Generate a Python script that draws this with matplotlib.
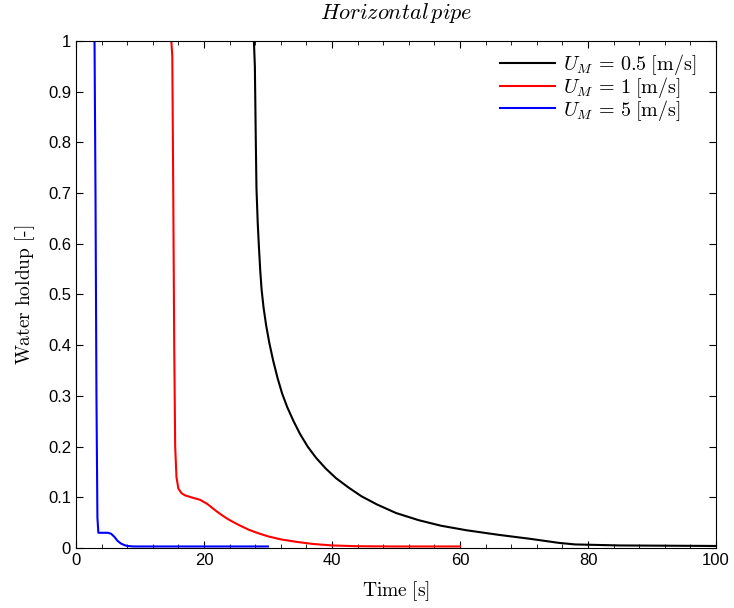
import matplotlib
matplotlib.use("Agg")
import matplotlib.pyplot as plt
from matplotlib.ticker import MultipleLocator

# --- data ---
t_05 = [0, 27.8, 27.95, 28.1, 28.2, 28.4, 28.6, 28.8, 29.0, 29.3, 29.7, 30.2,
        30.8, 31.5, 32.2, 33.0, 34.0, 35.0, 36.2, 37.5, 39.0, 40.6, 42.5, 44.6,
        47, 50, 53.5, 57, 61, 66, 71, 75.5, 78, 85, 100]
h_05 = [1, 1, 0.95, 0.8, 0.71, 0.64, 0.59, 0.545, 0.51, 0.475, 0.44, 0.405,
        0.37, 0.335, 0.305, 0.278, 0.25, 0.225, 0.2, 0.178, 0.157, 0.138, 0.12,
        0.102, 0.086, 0.069, 0.055, 0.044, 0.035, 0.026, 0.018, 0.01, 0.007,
        0.005, 0.004]

t_1 = [0, 14.9, 15.05, 15.2, 15.35, 15.5, 15.7, 16.0, 16.5, 17, 18, 19.4, 20.5,
       21.2, 22, 23, 24, 25.5, 27, 28.5, 30, 32, 34.5, 37, 40, 44, 50, 60]
h_1 = [1, 1, 0.97, 0.7, 0.4, 0.2, 0.14, 0.117, 0.108, 0.104, 0.1, 0.095, 0.087,
       0.08, 0.072, 0.063, 0.055, 0.045, 0.036, 0.029, 0.023, 0.017, 0.012,
       0.008, 0.005, 0.0035, 0.003, 0.003]

t_5 = [0, 2.9, 3.05, 3.2, 3.35, 3.5, 5.0, 5.5, 6, 6.5, 7, 7.5, 8, 9, 10, 15, 30]
h_5 = [1, 1, 0.7, 0.3, 0.06, 0.03, 0.03, 0.028, 0.022, 0.014, 0.009, 0.006,
       0.004, 0.003, 0.003, 0.003, 0.003]

y_ticks = [0, 0.1, 0.2, 0.3, 0.4, 0.5, 0.6, 0.7, 0.8, 0.9, 1]
y_tick_labels = ["0", "0.1", "0.2", "0.3", "0.4", "0.5", "0.6", "0.7", "0.8", "0.9", "1"]
x_ticks = [0, 20, 40, 60, 80, 100]

plt.rcParams["mathtext.fontset"] = "cm"
plt.rcParams["font.family"] = "Liberation Sans"

fig = plt.figure(figsize=(7.34, 6.08), dpi=100)
ax = fig.add_axes([0.1035, 0.0987, 0.872, 0.834])

ax.plot(t_05, h_05, color="black", lw=1.5, label=r"$U_M\,=\,0.5\;\mathrm{[m/s]}$")
ax.plot(t_1, h_1, color="red", lw=1.5, label=r"$U_M\,=\,1\;\mathrm{[m/s]}$")
ax.plot(t_5, h_5, color="blue", lw=1.5, label=r"$U_M\,=\,5\;\mathrm{[m/s]}$")

ax.set_xlim(0, 100)
ax.set_ylim(0, 1)
ax.set_xticks(x_ticks)
ax.set_xticklabels([str(v) for v in x_ticks])
ax.set_yticks(y_ticks)
ax.set_yticklabels(y_tick_labels)
ax.xaxis.set_minor_locator(MultipleLocator(4))
ax.tick_params(which="both", direction="in", top=True, right=True, labelsize=12)
ax.tick_params(which="major", length=5)
ax.tick_params(which="minor", length=3)

ax.set_xlabel(r"$\mathrm{Time\ [s]}$", fontsize=14, labelpad=8)
ax.set_ylabel(r"$\mathrm{Water\ holdup\ [\text{-}]}$", fontsize=14, labelpad=8)
ax.set_title(r"$Horizontal\,pipe$", fontsize=16, pad=16)

ax.legend(loc="upper right", bbox_to_anchor=(0.97, 0.979), frameon=False,
          fontsize=14.5, handlelength=2.75, labelspacing=-0.1,
          borderaxespad=0, borderpad=0, handletextpad=0.4)

fig.savefig("out.png", dpi=100)
